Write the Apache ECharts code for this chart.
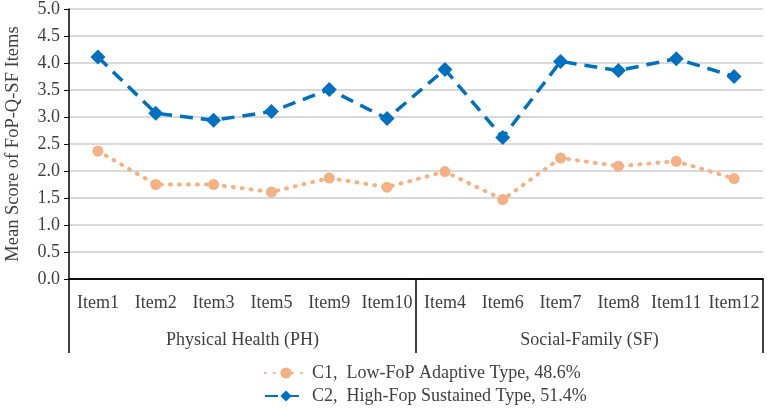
<!DOCTYPE html>
<html style="height: 100%">
<head>
   <meta charset="utf-8">
</head>
<style>
    body, html, #chart {
        width: 100%;
        height: 100%;
        margin: 0;
    }
</style>
<title>FoP-Q-SF</title>
<script src="https://cdn.jsdelivr.net/npm/echarts@6/dist/echarts.min.js"></script>
<body>
   <div id="chart"></div>
   <script type="text/javascript">
    // items and their dimension groups
    var items = ['Item1', 'Item2', 'Item3', 'Item5', 'Item9', 'Item10',
                 'Item4', 'Item6', 'Item7', 'Item8', 'Item11', 'Item12'];
    var groups = ['Physical Health (PH)', 'Social-Family (SF)'];
    var c1Name = 'C1,  Low-FoP Adaptive Type, 48.6%';
    var c2Name = 'C2,  High-Fop Sustained Type, 51.4%';
    var c1 = [2.37, 1.75, 1.75, 1.61, 1.87, 1.70, 1.99, 1.47, 2.24, 2.09, 2.18, 1.86];
    var c2 = [4.11, 3.07, 2.94, 3.10, 3.51, 2.97, 3.88, 2.62, 4.03, 3.86, 4.08, 3.75];

    var font = 'Liberation Serif';
    var legendText = { fontFamily: font, fontSize: 18, color: '#404040' };
    var chart = echarts.init(document.getElementById('chart'));
    var option = {
        animation: false,
        textStyle: { fontFamily: font },
        grid: { left: 69, right: 4, top: 9, bottom: 129, containLabel: false, outerBoundsMode: 'none' },
        // one legend per row, stacked like the original
        legend: [{
            left: 259, top: 359, itemWidth: 42, itemHeight: 14, itemGap: 6,
            textStyle: legendText, data: [c1Name]
        }, {
            left: 259, top: 382, itemWidth: 42, itemHeight: 14, itemGap: 6,
            textStyle: legendText, data: [c2Name]
        }],
        xAxis: [{
            type: 'category',
            data: items,
            axisLine: { lineStyle: { color: '#000', width: 1.5 } },
            axisTick: { alignWithLabel: true, inside: true, length: 4, lineStyle: { color: '#000' } },
            axisLabel: { fontFamily: font, fontSize: 18, color: '#404040', margin: 15, interval: 0 }
        }, {
            type: 'category',
            position: 'bottom',
            data: groups,
            axisLine: { show: true, lineStyle: { color: '#000', width: 1.5 } },
            axisTick: { show: true, interval: 0, length: 74, lineStyle: { color: '#000', width: 1.5 } },
            axisLabel: { fontFamily: font, fontSize: 18, color: '#404040', margin: 52, interval: 0 }
        }],
        yAxis: {
            type: 'value',
            min: 0,
            max: 5,
            interval: 0.5,
            name: 'Mean Score of FoP-Q-SF Items',
            nameLocation: 'middle',
            nameGap: 46,
            nameTextStyle: { fontFamily: font, fontSize: 18.5, color: '#404040' },
            axisLine: { show: true, lineStyle: { color: '#000', width: 1.5 } },
            axisTick: { show: true, length: 5, lineStyle: { color: '#000' } },
            axisLabel: {
                fontFamily: font, fontSize: 18, color: '#404040', margin: 9,
                formatter: function (v) { return v.toFixed(1); }
            },
            splitLine: { lineStyle: { color: '#d9d9d9', width: 2 } }
        },
        series: [{
            name: c1Name,
            type: 'line',
            data: c1,
            symbol: 'circle',
            symbolSize: 11,
            itemStyle: { color: '#F4B183' },
            lineStyle: { color: '#F4B183', width: 4, type: [1, 8], cap: 'round' }
        }, {
            name: c2Name,
            type: 'line',
            data: c2,
            symbol: 'diamond',
            symbolSize: 15,
            itemStyle: { color: '#0070C0' },
            lineStyle: { color: '#0070C0', width: 3.5, type: [13, 8] }
        }]
    };
    chart.setOption(option);
   </script>
</body>
</html>
